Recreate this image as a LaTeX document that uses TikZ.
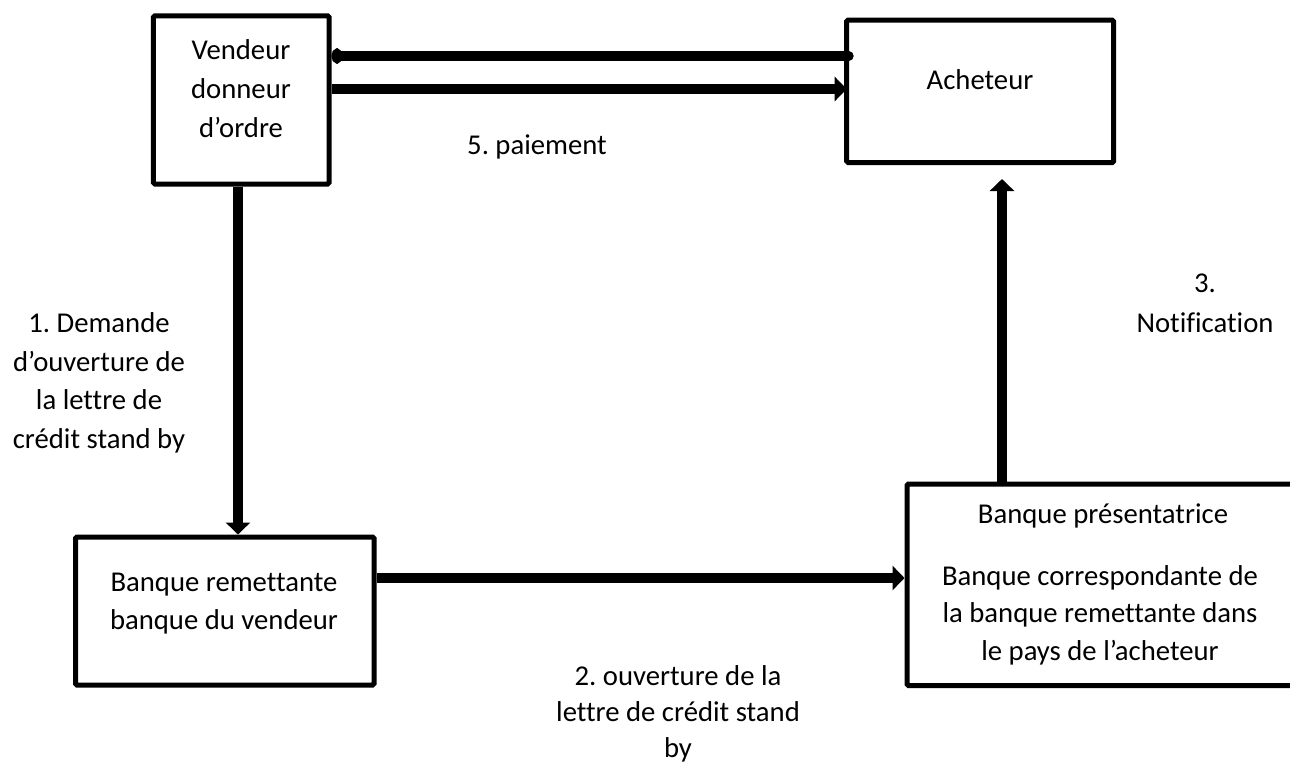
\documentclass[tikz,border=0pt]{standalone}
\usepackage{fontspec}
\setmainfont{Carlito}[Ligatures=NoCommon]
\frenchspacing
\usetikzlibrary{arrows.meta,calc}
\tikzset{
  box/.style={draw, line width=5pt, rounded corners=1.5pt, inner sep=0pt},
  % multi-line texts are placed by the baseline of their last line
  txt/.style={align=center, anchor=base, inner sep=0pt,
              font=\fontsize{28.7}{38.5}\selectfont},
  flow/.style={line width=10pt, -{Triangle[length=12pt,width=24pt]}},
  bar/.style={line width=10pt, line cap=round},
}
\begin{document}
\begin{tikzpicture}[x=1pt,y=-1pt]
\useasboundingbox (0,0) rectangle (1290,764);

% parties and banks
\node[box, minimum width=175.7pt, minimum height=168.2pt] (vend) at (241.2,99.9) {};
\node[box, minimum width=267pt, minimum height=142.5pt] (ach) at (980.2,91.25) {};
\node[box, minimum width=298.5pt, minimum height=148pt] (rem) at (224.75,611) {};
\node[box, minimum width=388pt, minimum height=201.5pt] (pres) at (1101,584.75) {};

% box texts
\node[txt, font=\fontsize{28.7}{39}\selectfont] (vendtxt) at (241,137) {Vendeur\\donneur\\d’ordre};
\node[txt] (achtxt) at (980,89) {Acheteur};
\node[txt, font=\fontsize{28.7}{38}\selectfont] (remtxt) at (224,629) {Banque remettante\\banque du vendeur};
\node[txt] (prestitle) at (1103,523) {Banque présentatrice};
\node[txt, font=\fontsize{28.7}{37.5}\selectfont] (prestxt) at (1100,660)
  {Banque correspondante de\\la banque remettante dans\\le pays de l’acheteur};

% flows
\draw[bar, {Circle[length=11pt,width=15pt]}-] (vend.east |- 0,56) -- ($(ach.west |- 0,56)+(4.5,0)$);
\draw[flow] (vend.east |- 0,89) -- ($(ach.west |- 0,89)+(2.5,0)$);
\draw[flow] (vend.south -| 238,0) -- (rem.north -| 238,0);
\draw[flow] (rem.east |- 0,578) -- (pres.west |- 0,578);
\draw[flow] (pres.north -| 1002,0) -- ($(ach.south -| 1002,0)+(0,14)$);

% step labels
\node[txt] (l5) at (537,154) {5. paiement};
\node[txt] (l1) at (99,448) {1. Demande\\d’ouverture de\\la lettre de\\crédit stand by};
\node[txt, font=\fontsize{28.7}{40}\selectfont] (l3) at (1205,332) {3.\\Notification};
\node[txt, font=\fontsize{28.7}{36}\selectfont] (l2) at (678,757) {2. ouverture de la\\lettre de crédit stand\\by};
\end{tikzpicture}
\end{document}
